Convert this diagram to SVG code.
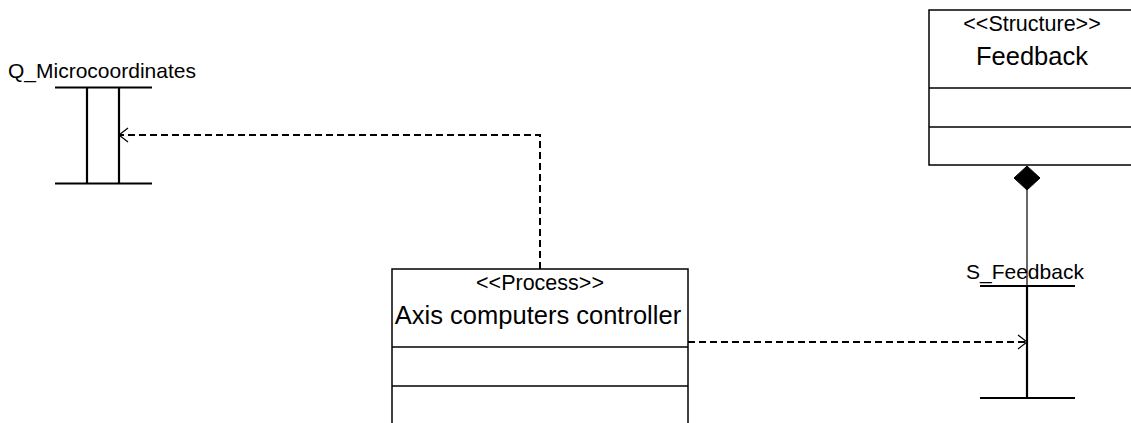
<svg xmlns="http://www.w3.org/2000/svg" width="1131" height="423" viewBox="0 0 1131 423">
<style>
.bg{fill:#fff}
.box{fill:#fff;stroke:#000;stroke-width:1.5}
.div{stroke:#000;stroke-width:1.5}
.bar{stroke:#000;stroke-width:2.2;fill:none}
.dash{stroke:#000;stroke-width:2;stroke-dasharray:7,4;fill:none}
.thin{stroke:#000;stroke-width:1.2;fill:none}
.arr{stroke:#000;stroke-width:1.2;fill:none}
text{font-family:"Liberation Sans",Arial,sans-serif;fill:#000}
.st{font-size:21.5px}
.nm{font-size:25.5px}
.lb{font-size:21px}
</style>
<rect class="bg" x="0" y="0" width="1131" height="423"/>
<g id="connectors">
  <polyline class="dash" points="540,269 540,135 120,135"/>
  <polyline class="arr" points="128,128 119,135 128,142"/>
  <line class="dash" x1="688" y1="342" x2="1026" y2="342"/>
  <polyline class="arr" points="1018,335 1027,342 1018,349"/>
  <line class="thin" x1="1027" y1="190" x2="1027" y2="398"/>
  <polygon points="1027,166 1040,178 1027,190 1014,178" fill="#000" stroke="#000" stroke-width="1"/>
</g>
<g id="Q_Microcoordinates">
  <text class="lb" x="8" y="78">Q_Microcoordinates</text>
  <line class="bar" x1="55" y1="87.5" x2="152" y2="87.5"/>
  <line class="bar" x1="55" y1="183.5" x2="152" y2="183.5"/>
  <line class="bar" x1="87" y1="87.5" x2="87" y2="183.5"/>
  <line class="bar" x1="119" y1="87.5" x2="119" y2="183.5"/>
</g>
<g id="Axis_computers_controller">
  <rect class="box" x="392" y="269" width="296" height="170"/>
  <line class="div" x1="392" y1="347" x2="688" y2="347"/>
  <line class="div" x1="392" y1="386" x2="688" y2="386"/>
  <text class="st" x="540" y="290" text-anchor="middle">&lt;&lt;Process&gt;&gt;</text>
  <text class="nm" x="538" y="324" text-anchor="middle">Axis computers controller</text>
</g>
<g id="Feedback">
  <rect class="box" x="929" y="10" width="206" height="155"/>
  <line class="div" x1="929" y1="88" x2="1135" y2="88"/>
  <line class="div" x1="929" y1="127" x2="1135" y2="127"/>
  <text class="st" x="1032" y="31" text-anchor="middle">&lt;&lt;Structure&gt;&gt;</text>
  <text class="nm" x="1032" y="65" text-anchor="middle">Feedback</text>
</g>
<g id="S_Feedback">
  <text class="lb" x="966" y="279">S_Feedback</text>
  <line class="bar" x1="980" y1="286" x2="1075" y2="286"/>
  <line class="bar" x1="980" y1="398" x2="1075" y2="398"/>
  <line class="bar" x1="1027" y1="286" x2="1027" y2="398"/>
</g>
</svg>
